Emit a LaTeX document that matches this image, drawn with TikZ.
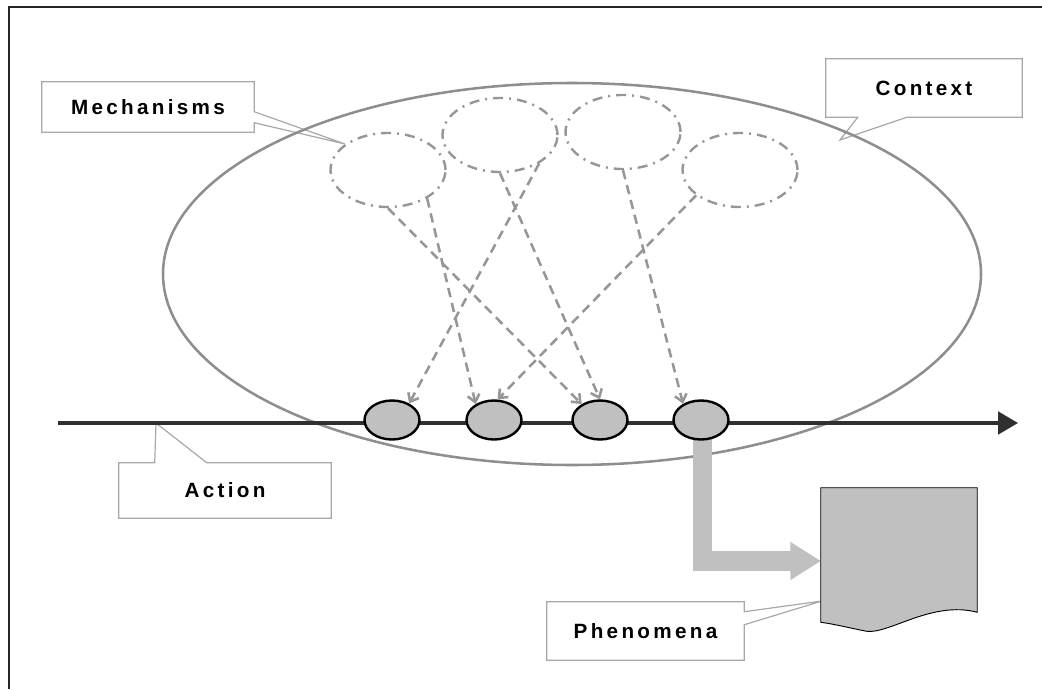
\documentclass[tikz,border=0pt]{standalone}
\usepackage{fontspec}
\setmainfont{Liberation Sans}[LetterSpace=16]
\usetikzlibrary{shapes.geometric,arrows.meta,calc,backgrounds}

\definecolor{rimgray}{HTML}{8E8E8E}
\definecolor{mechgray}{HTML}{969696}
\definecolor{fillgray}{HTML}{C0C0C0}
\definecolor{boxgray}{HTML}{A8A8A8}
\definecolor{actline}{HTML}{303030}

\tikzset{
  lbl/.style={inner sep=0pt, font=\bfseries\fontsize{15.5}{18}\selectfont},
  callout/.style={draw=boxgray, line width=0.9pt, fill=white},
  mechanism/.style={ellipse, draw=mechgray, line width=1.8pt, inner sep=0pt,
    minimum width=86.25pt, minimum height=55.5pt,
    dash pattern=on 7.5pt off 4.5pt on 1.5pt off 4.5pt},
  event/.style={ellipse, draw=black, line width=1.8pt, fill=fillgray, inner sep=0pt,
    minimum width=41.25pt, minimum height=29.25pt},
  effect/.style={draw=mechgray, line width=1.9pt, dash pattern=on 7pt off 4.5pt,
    -{Straight Barb[length=5.5pt,width=9pt]}},
  fatarrow/.style={draw=fillgray, line width=14.5pt,
    -{Triangle[length=23pt,width=27pt]}},
}

\begin{document}
\begin{tikzpicture}[x=0.75pt, y=-0.75pt]
  \useasboundingbox (0,0) rectangle (1042,689);

  % outer frame (open to the right and bottom)
  \coordinate (frTR) at (1042,7);
  \coordinate (frTL) at (9,7);
  \coordinate (frBL) at (9,689);
  \draw[line width=1.8pt, black!85] (frTR) -- (frTL) -- (frBL);

  % callout labels
  \node[lbl, minimum width=159pt, minimum height=37.5pt] (mech) at (148,107) {Mechanisms};
  \node[lbl, minimum width=147pt, minimum height=43.5pt] (ctxl) at (924,88) {Context};
  \node[lbl, minimum width=159pt, minimum height=41.25pt] (act) at (225,490.5) {Action};
  \node[lbl, minimum width=147.75pt, minimum height=43.5pt] (phen) at (645.5,631) {Phenomena};

  \coordinate (mechTip) at (345,144);
  \coordinate (ctxTip) at (840,140);
  \coordinate (actTip) at (156,423);
  \coordinate (phenTip) at (822,601);

  \begin{scope}[on background layer]
    \draw[callout] (mech.north west) -- (mech.north east) -- ($(mech.north east)+(0,30)$)
      -- (mechTip) -- ($(mech.north east)+(0,41)$) -- (mech.south east) -- (mech.south west) -- cycle;
    \draw[callout] (ctxl.north west) -- (ctxl.north east) -- (ctxl.south east)
      -- ($(ctxl.south west)+(81,0)$) -- (ctxTip) -- ($(ctxl.south west)+(32,0)$) -- (ctxl.south west) -- cycle;
    \draw[callout] (act.north west) -- ($(act.north west)+(36,0)$) -- (actTip)
      -- ($(act.north west)+(88,0)$) -- (act.north east) -- (act.south east) -- (act.south west) -- cycle;
    \draw[callout] (phen.north west) -- (phen.north east) -- ($(phen.north east)+(0,10)$)
      -- (phenTip) -- ($(phen.north east)+(0,23)$) -- (phen.south east) -- (phen.south west) -- cycle;
  \end{scope}

  % context
  \node[ellipse, draw=rimgray, line width=1.9pt, inner sep=0pt,
        minimum width=613.5pt, minimum height=286.5pt] (ctx) at (572,274) {};

  % mechanisms
  \node[mechanism] (E1) at (388,170) {};
  \node[mechanism] (E2) at (500,135) {};
  \node[mechanism] (E3) at (623,132) {};
  \node[mechanism] (E4) at (740,170) {};

  % fat arrow from the last event to the phenomena
  \coordinate (docIn) at (821,561);
  \coordinate (S4c) at (702.5,421);
  \draw[fatarrow] (S4c) |- (docIn);

  % phenomena document
  \node[minimum width=117pt, minimum height=100.5pt, inner sep=0pt] (doc) at (899,555) {};
  \draw[fill=fillgray, draw=black, line width=0.7pt]
    (doc.north west) -- (doc.north east) -- ($(doc.south east)+(0,-10)$)
    .. controls ($(doc.south east)+(-45,-22)$) and ($(doc.south)+(-10,12)$) .. ($(doc.south west)+(46,9)$)
    .. controls ($(doc.south west)+(30,6)$) and ($(doc.south west)+(15,2)$) .. (doc.south west) -- cycle;

  % action line
  \coordinate (aStart) at (58,423);
  \coordinate (aEnd) at (1018,423);
  \draw[line width=2.4pt, actline, -{Triangle[length=15pt,width=17pt]}] (aStart) -- (aEnd);

  % events
  \node[event] (S1) at (392,420) {};
  \node[event] (S2) at (494,420) {};
  \node[event] (S3) at (600,420) {};
  \node[event] (S4) at (701,420) {};

  % mechanisms acting on events
  \draw[effect] (E1.-36) -- (S2.139);
  \draw[effect] (E1.-90) -- (S3.139);
  \draw[effect] (E2.-36) -- (S1.44);
  \draw[effect] (E2.-90) -- (S3.90);
  \draw[effect] (E3.-90) -- (S4.138);
  \draw[effect] (E4.210) -- (S2.80);
\end{tikzpicture}
\end{document}
